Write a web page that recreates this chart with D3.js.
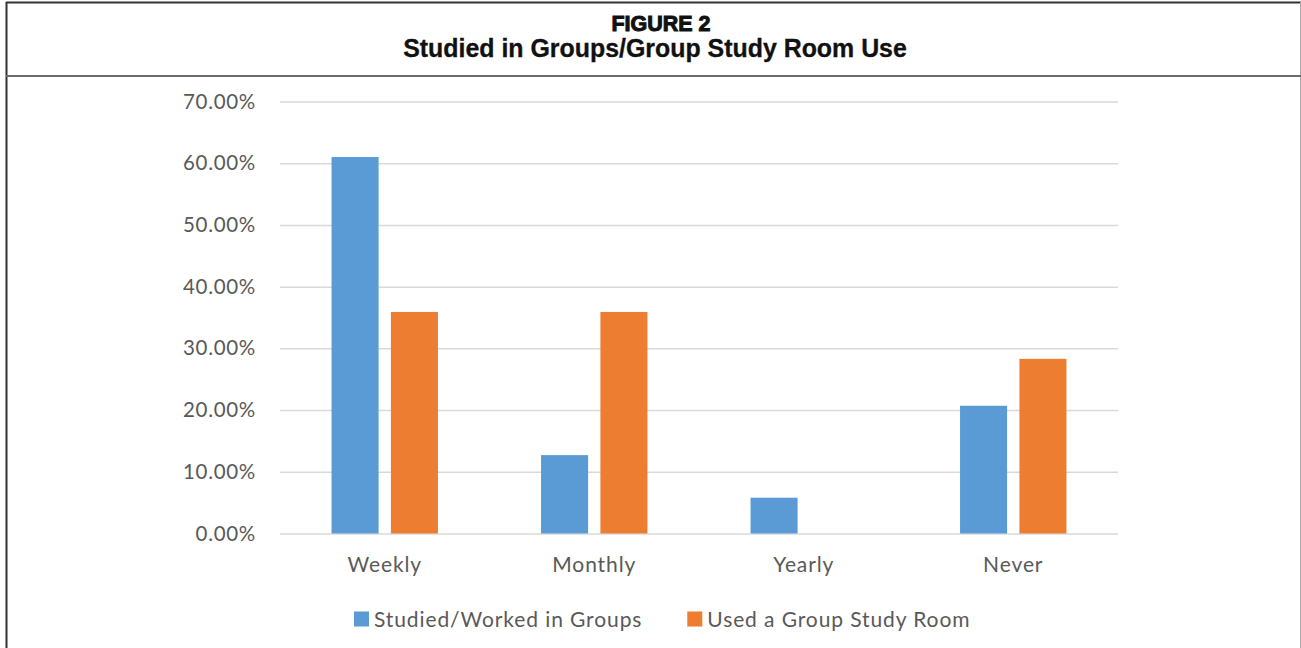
<!DOCTYPE html>
<html><head><meta charset="utf-8">
<script src="https://cdn.jsdelivr.net/npm/d3@7"></script>
<style>html,body{margin:0;padding:0;background:#fff;} svg{display:block;}</style>
</head><body>
<svg id="chart" width="1301" height="648"></svg>
<script>
// Survey results: how often students studied in groups vs. used a group study room
const categories = ["Weekly", "Monthly", "Yearly", "Never"];
const seriesNames = ["Studied/Worked in Groups", "Used a Group Study Room"];
const studiedInGroups = [61.0, 12.7, 5.8, 20.7];
const usedStudyRoom = [35.9, 35.9, 0, 28.3];
const yTicks = [0, 10, 20, 30, 40, 50, 60, 70];
const figureLabel = "FIGURE 2";
const figureTitle = "Studied in Groups/Group Study Room Use";

const seriesValues = [studiedInGroups, usedStudyRoom];
const colors = ["#5B9BD5", "#ED7D31"];
const textColor = "#595959";
const font = "Lato, 'Open Sans', sans-serif";

const W = 1301, H = 648;
const svg = d3.select("#chart");

// frame: dark left/top rules, light right rule, title separator
svg.append("line").attr("x1", 6.5).attr("x2", 6.5).attr("y1", 2).attr("y2", H)
  .attr("stroke", "#333").attr("stroke-width", 2);
svg.append("line").attr("x1", 6).attr("x2", W).attr("y1", 2.5).attr("y2", 2.5)
  .attr("stroke", "#333").attr("stroke-width", 2);
svg.append("line").attr("x1", 1300.5).attr("x2", 1300.5).attr("y1", 2).attr("y2", H)
  .attr("stroke", "#aaa").attr("stroke-width", 1);
svg.append("line").attr("x1", 6).attr("x2", W).attr("y1", 76).attr("y2", 76)
  .attr("stroke", "#6b6b6b").attr("stroke-width", 2);

// titles, sized to their target widths
function fitText(sel, target) {
  const len = sel.node().getComputedTextLength();
  const fs = parseFloat(sel.attr("font-size"));
  sel.attr("font-size", fs * target / len);
}
const t1 = svg.append("text").attr("x", 661).attr("y", 31)
  .attr("text-anchor", "middle").attr("font-family", "'Liberation Sans', Arial, sans-serif")
  .attr("font-weight", "bold").attr("font-size", 21).attr("fill", "#111")
  .attr("stroke", "#111").attr("stroke-width", 1)
  .text(figureLabel);
fitText(t1, 99);
const t2 = svg.append("text").attr("x", 655).attr("y", 57)
  .attr("text-anchor", "middle").attr("font-family", "'Liberation Sans', Arial, sans-serif")
  .attr("font-weight", "bold").attr("font-size", 24).attr("fill", "#111")
  .attr("stroke", "#111").attr("stroke-width", 0.3)
  .text(figureTitle);
fitText(t2, 504);

// scales
const plot = { left: 280, right: 1118, top: 101.5, bottom: 533.5 };
const y = d3.scaleLinear().domain([0, 70]).range([plot.bottom, plot.top]);
const x0 = d3.scaleBand().domain(categories).range([plot.left, plot.right]);
const x1 = d3.scaleBand().domain(d3.range(seriesNames.length))
  .range([0, x0.bandwidth()]).paddingInner(0.2074).paddingOuter(0.8685);

// gridlines + y tick labels
const yAxis = d3.axisLeft(y).tickValues(yTicks)
  .tickSize(-(plot.right - plot.left)).tickPadding(24)
  .tickFormat(d => d.toFixed(2) + "%");
const gy = svg.append("g").attr("transform", `translate(${plot.left},0)`).call(yAxis);
gy.select(".domain").remove();
gy.selectAll(".tick line").attr("stroke", "#d9d9d9").attr("stroke-width", 1.5);
gy.selectAll(".tick text").attr("fill", textColor).attr("font-family", font)
  .attr("font-size", 20.5).attr("letter-spacing", "0.7px");

// bars
const groups = svg.append("g").selectAll("g").data(categories).join("g")
  .attr("transform", d => `translate(${x0(d)},0)`);
groups.selectAll("rect")
  .data((c, i) => seriesValues.map((vals, s) => ({ s, v: vals[i] })))
  .join("rect")
  .attr("x", d => x1(d.s))
  .attr("width", x1.bandwidth())
  .attr("y", d => y(d.v))
  .attr("height", d => y(0) - y(d.v))
  .attr("fill", d => colors[d.s]);

// category labels
const xAxis = d3.axisBottom(x0).tickSize(0).tickPadding(24);
const gx = svg.append("g").attr("transform", `translate(0,${plot.bottom})`).call(xAxis);
gx.select(".domain").remove();
gx.selectAll(".tick text").attr("fill", textColor).attr("font-family", font)
  .attr("font-size", 21).attr("letter-spacing", "0.9px");

// legend
const legend = svg.append("g");
let lx = 354;
seriesNames.forEach((name, i) => {
  const item = legend.append("g").attr("transform", `translate(${lx},0)`);
  item.append("rect").attr("x", 0).attr("y", 611.5).attr("width", 15).attr("height", 15)
    .attr("fill", colors[i]);
  const txt = item.append("text").attr("x", 20).attr("y", 626.5)
    .attr("fill", textColor).attr("font-family", font)
    .attr("font-size", 21).attr("letter-spacing", "0.9px").text(name);
  lx += 20 + txt.node().getComputedTextLength() + 45;
});
</script>
</body></html>
